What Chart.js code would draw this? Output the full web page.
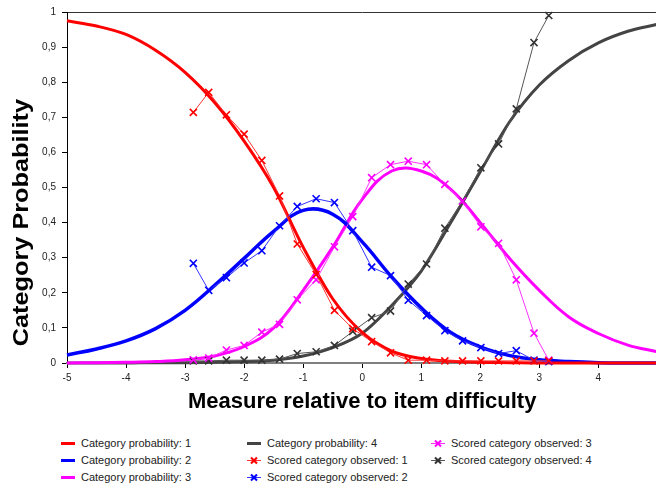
<!DOCTYPE html>
<html>
<head>
    <title>Category probability curves</title>
    <style>
        body {
            margin: 0;
            background-color: #ffffff;
            width: 656px;
            height: 488px;
            overflow: hidden;
            position: relative;
            font-family: 'Liberation Sans', Arial, sans-serif;
        }

        #chart-box {
            position: absolute;
            left: 0;
            top: 0;
            width: 664px;
            height: 420px;
        }

        .legend-item {
            position: absolute;
            height: 17px;
            line-height: 17px;
            font-size: 11px;
            color: #222;
            white-space: nowrap;
        }

        .legend-item svg {
            position: absolute;
            left: 0;
            top: 0;
        }

        .legend-item span {
            position: absolute;
            left: 20px;
            top: 0;
        }
    </style>
    <script src="https://cdn.jsdelivr.net/npm/chart.js"></script>
</head>
<body>
    <div id="chart-box">
        <canvas id="prob-chart" width="664" height="420"></canvas>
    </div>
    <div id="legend"></div>

    <script>
        // measure grid for the model curves
        const measureX = [-5, -4.5, -4, -3.5, -3, -2.5, -2, -1.5, -1, -0.5, 0, 0.5, 1, 1.5, 2, 2.5, 3, 3.5, 4, 4.5, 5];
        const probCat1 = [0.975, 0.960, 0.936, 0.891, 0.828, 0.742, 0.632, 0.500, 0.330, 0.183, 0.087, 0.034, 0.013, 0.005, 0.002, 0.001, 0, 0, 0, 0, 0];
        const probCat2 = [0.023, 0.040, 0.063, 0.098, 0.150, 0.221, 0.298, 0.375, 0.435, 0.424, 0.345, 0.245, 0.157, 0.087, 0.046, 0.021, 0.009, 0.004, 0.001, 0, 0];
        const probCat3 = [0, 0.001, 0.002, 0.004, 0.009, 0.020, 0.047, 0.100, 0.207, 0.330, 0.466, 0.547, 0.547, 0.495, 0.400, 0.297, 0.207, 0.131, 0.084, 0.051, 0.032];
        const probCat4 = [0, 0, 0, 0.001, 0.001, 0.002, 0.004, 0.008, 0.020, 0.044, 0.085, 0.164, 0.262, 0.400, 0.545, 0.688, 0.792, 0.862, 0.912, 0.945, 0.965];

        // observed scored categories
        const observedX = [-2.86, -2.6, -2.3, -2.0, -1.7, -1.4, -1.1, -0.78, -0.47, -0.16, 0.16, 0.48, 0.78, 1.09, 1.4, 1.7, 2.01, 2.31, 2.61, 2.91, 3.16];
        const observedCat1 = [0.714, 0.771, 0.707, 0.652, 0.577, 0.476, 0.339, 0.252, 0.150, 0.098, 0.061, 0.029, 0.008, 0.008, 0.006, 0.006, 0.006, 0.006, 0.006, 0.006, 0.006];
        const observedCat2 = [0.284, 0.207, 0.243, 0.285, 0.320, 0.391, 0.446, 0.468, 0.457, 0.377, 0.273, 0.249, 0.179, 0.135, 0.092, 0.063, 0.044, 0.027, 0.035, 0.008, 0.004];
        const observedCat3 = [0.009, 0.014, 0.037, 0.050, 0.088, 0.110, 0.180, 0.237, 0.331, 0.417, 0.528, 0.565, 0.575, 0.565, 0.509, 0.461, 0.388, 0.341, 0.237, 0.085, 0.008];
        const observedCat4 = [0.006, 0.006, 0.008, 0.008, 0.008, 0.011, 0.027, 0.032, 0.050, 0.090, 0.129, 0.148, 0.225, 0.282, 0.384, 0.462, 0.556, 0.624, 0.724, 0.913, 0.990];

        const yTickValues = [0, 0.1, 0.2, 0.3, 0.4, 0.5, 0.6, 0.7, 0.8, 0.9, 1];

        const fontFamily = "'Liberation Sans', Arial, sans-serif";

        function toPoints(xs, ys) {
            return xs.map((x, i) => ({ x: x, y: ys[i] }));
        }

        // monotone curves (1 and 4) use monotone splines, the humped ones a plain bezier
        function modelCurve(label, values, color, width, monotone) {
            return {
                label: label,
                data: toPoints(measureX, values),
                borderColor: color,
                backgroundColor: color,
                borderWidth: width,
                pointRadius: 0,
                tension: 0.4,
                cubicInterpolationMode: monotone ? 'monotone' : 'default',
                clip: false,
                order: 2,
                isObserved: false
            };
        }

        function observedLine(label, values, color, lineColor) {
            return {
                label: label,
                data: toPoints(observedX, values),
                borderColor: lineColor,
                backgroundColor: color,
                borderWidth: 1,
                pointStyle: 'crossRot',
                pointRadius: 5,
                pointBorderWidth: 1.6,
                pointBorderColor: color,
                tension: 0,
                clip: false,
                order: 1,
                isObserved: true
            };
        }

        const datasets = [
            modelCurve('Category probability: 1', probCat1, '#ff0000', 3, true),
            modelCurve('Category probability: 2', probCat2, '#0000ff', 3.5, false),
            modelCurve('Category probability: 3', probCat3, '#ff00ff', 3, false),
            modelCurve('Category probability: 4', probCat4, '#444444', 3, true),
            observedLine('Scored category observed: 1', observedCat1, '#ff0000', '#ff3333'),
            observedLine('Scored category observed: 2', observedCat2, '#0000ff', '#3333ff'),
            observedLine('Scored category observed: 3', observedCat3, '#ff00ff', '#ff33ff'),
            observedLine('Scored category observed: 4', observedCat4, '#333333', '#555555')
        ];

        // y axis title sits a little below the middle of the axis
        const yTitlePlugin = {
            id: 'yTitle',
            afterDraw(chart) {
                const ctx = chart.ctx;
                const yMid = chart.scales.y.getPixelForValue(0.4);
                ctx.save();
                ctx.translate(22, yMid);
                ctx.rotate(-Math.PI / 2);
                ctx.scale(1.15, 1);
                ctx.font = 'bold 22px ' + fontFamily;
                ctx.fillStyle = '#000000';
                ctx.textAlign = 'center';
                ctx.textBaseline = 'middle';
                ctx.fillText('Category Probability', 0, 0);
                ctx.restore();
            }
        };

        const ctx = document.getElementById('prob-chart').getContext('2d');
        const probChart = new Chart(ctx, {
            type: 'scatter',
            data: { datasets: datasets.map(d => Object.assign({ showLine: true }, d)) },
            options: {
                responsive: false,
                animation: false,
                layout: { padding: { left: 0, right: 6, top: 10, bottom: 0 } },
                plugins: {
                    legend: { display: false },
                    tooltip: { enabled: false }
                },
                scales: {
                    x: {
                        type: 'linear',
                        position: 'bottom',
                        min: -5,
                        max: 5,
                        ticks: {
                            stepSize: 1,
                            color: '#222',
                            font: { size: 10, family: fontFamily },
                            padding: 4,
                            maxRotation: 0,
                            // the right end (5) falls just outside the picture
                            callback: v => (v === 5 ? '' : String(v))
                        },
                        grid: { drawOnChartArea: false, tickLength: 5, color: '#000000' },
                        border: { color: '#808080', width: 2 },
                        title: {
                            display: true,
                            text: 'Measure relative to item difficulty',
                            color: '#000000',
                            font: { size: 22, weight: 'bold', family: fontFamily },
                            padding: { top: 0, bottom: 5 }
                        },
                        afterFit: s => { s.height = 57; }
                    },
                    x2: {
                        type: 'linear',
                        position: 'top',
                        min: -5,
                        max: 5,
                        ticks: { display: false },
                        grid: { display: false },
                        border: { color: '#333333', width: 1 },
                        afterFit: s => { s.height = 0; }
                    },
                    y: {
                        type: 'linear',
                        min: 0,
                        max: 1,
                        afterBuildTicks: s => { s.ticks = yTickValues.map(v => ({ value: v })); },
                        ticks: {
                            color: '#222',
                            font: { size: 10, family: fontFamily },
                            padding: 6,
                            callback: v => {
                                const r = Math.round(v * 10) / 10;
                                return (r === 0 || r === 1) ? String(r) : r.toFixed(1).replace('.', ',');
                            }
                        },
                        grid: { drawOnChartArea: false, tickLength: 5, color: '#000000' },
                        border: { color: '#000000', width: 1 },
                        afterFit: s => { s.width = 67; }
                    }
                }
            },
            plugins: [yTitlePlugin]
        });

        // legend in three columns, filled column by column
        const legendCols = [61, 247, 431];
        const legendRows = [443, 460, 477];
        const legendBox = document.getElementById('legend');
        probChart.data.datasets.forEach((ds, i) => {
            const col = Math.floor(i / 3);
            const row = i % 3;
            let symbol;
            if (ds.isObserved) {
                symbol = '<svg width="16" height="17">' +
                    '<line x1="0" y1="8.5" x2="14" y2="8.5" stroke="' + ds.borderColor + '" stroke-width="1"/>' +
                    '<line x1="4" y1="5.5" x2="10" y2="11.5" stroke="' + ds.backgroundColor + '" stroke-width="2"/>' +
                    '<line x1="4" y1="11.5" x2="10" y2="5.5" stroke="' + ds.backgroundColor + '" stroke-width="2"/>' +
                    '</svg>';
            } else {
                symbol = '<svg width="16" height="17">' +
                    '<line x1="0" y1="8.5" x2="14" y2="8.5" stroke="' + ds.borderColor + '" stroke-width="' + Math.min(ds.borderWidth, 3) + '"/>' +
                    '</svg>';
            }
            const item = document.createElement('div');
            item.className = 'legend-item';
            item.style.left = legendCols[col] + 'px';
            item.style.top = (legendRows[row] - 8.5) + 'px';
            item.innerHTML = symbol + '<span>' + ds.label + '</span>';
            legendBox.appendChild(item);
        });
    </script>
</body>
</html>
